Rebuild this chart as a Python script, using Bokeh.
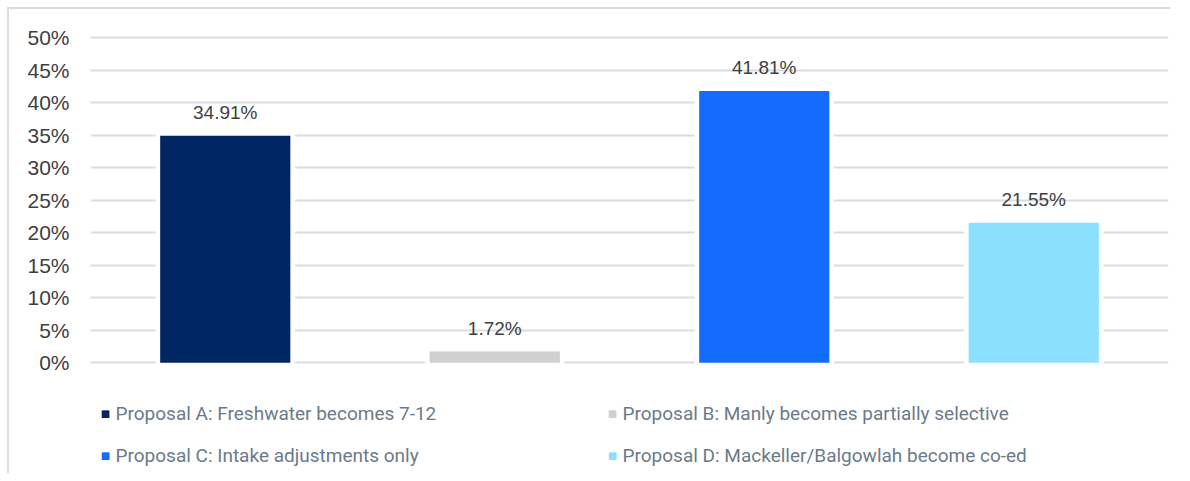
from bokeh.plotting import figure
from bokeh.models import ColumnDataSource, FactorRange, Range1d, LabelSet, Label, FixedTicker, CustomJSTickFormatter
from bokeh.core.properties import value
from bokeh.embed import file_html
from bokeh.resources import INLINE

categories = ["Proposal A: Freshwater becomes 7-12",
              "Proposal B: Manly becomes partially selective",
              "Proposal C: Intake adjustments only",
              "Proposal D: Mackeller/Balgowlah become co-ed"]
values = [34.91, 1.72, 41.81, 21.55]
colors = ["#002664", "#d0d0d0", "#146cfd", "#8ce0ff"]
value_labels = ["34.91%", "1.72%", "41.81%", "21.55%"]
y_ticks = [0, 5, 10, 15, 20, 25, 30, 35, 40, 45, 50]

OFF = 9  # figure offset inside the page (border)
W, H = 1172 - OFF, 475 - OFF

src = ColumnDataSource(dict(cat=categories, val=values, col=colors, lab=value_labels,
                            halo=[v + 0.6 for v in values]))

p = figure(width=W, height=H, x_range=FactorRange(*categories, range_padding=0),
           y_range=Range1d(-17.35, 50.5), output_backend="svg", toolbar_location=None,
           min_border_left=90 - OFF, min_border_right=1172 - 1168, min_border_top=34 - OFF,
           min_border_bottom=0)
p.styles = {"margin-left": "7px", "margin-top": "7px",
            "border-top": "2px solid #d9dde2", "border-left": "2px solid #d9dde2"}
p.outline_line_color = None
p.background_fill_color = "white"
p.border_fill_color = "white"

p.xaxis.visible = False
p.xgrid.visible = False
p.ygrid.ticker = FixedTicker(ticks=y_ticks)
p.ygrid.grid_line_color = "#d9dde2"
p.ygrid.grid_line_width = 2
p.yaxis.ticker = FixedTicker(ticks=y_ticks)
p.yaxis.formatter = CustomJSTickFormatter(code="return tick + '%'")
p.yaxis.axis_line_color = None
p.yaxis.major_tick_line_color = None
p.yaxis.minor_tick_line_color = None
p.yaxis.major_label_standoff = 15
p.yaxis.major_label_text_font = "Liberation Sans"
p.yaxis.major_label_text_font_size = "21px"
p.yaxis.major_label_text_color = "#404040"

# white halo behind bars (gaps in gridlines)
p.vbar(x="cat", top="halo", bottom=-0.6, width=0.517, source=src, fill_color="white", line_color=None)
p.vbar(x="cat", top="val", width=0.483, source=src, fill_color="col", line_color=None)

labels = LabelSet(x="cat", y="val", text="lab", source=src, text_align="center",
                  text_baseline="middle", y_offset=23, text_font=value("Liberation Sans"),
                  text_font_size=value("19px"), text_color="#404040")
p.add_layout(labels)

# legend (manual, two columns), screen units relative to frame bottom-left
leg_pos = [(15, 62), (522, 62), (15, 20), (522, 20)]
for (lx, ly), name, c in zip(leg_pos, categories, colors):
    p.add_layout(Label(x=lx, y=ly, x_units="screen", y_units="screen", text="\u25a0",
                       text_color=c, text_font="DejaVu Sans", text_font_size="10px",
                       text_align="center", text_baseline="middle"))
    p.add_layout(Label(x=lx + 10, y=ly, x_units="screen", y_units="screen", text=name,
                       text_color="#6b7a8a", text_font="Roboto", text_font_size="19px",
                       text_align="left", text_baseline="middle"))

open("out.html", "w").write(file_html(p, INLINE))
